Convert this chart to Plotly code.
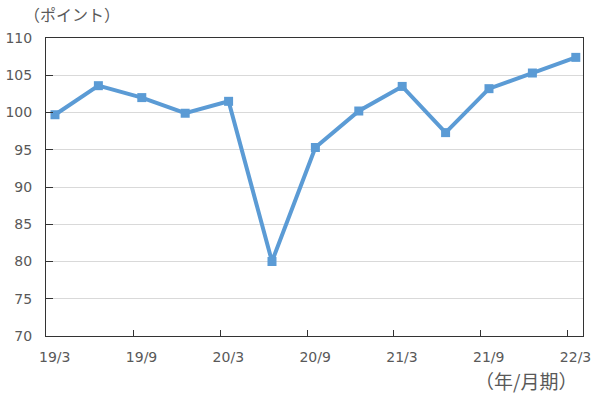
import plotly.graph_objects as go

periods = ["19/3", "19/6", "19/9", "19/12", "20/3", "20/6", "20/9", "20/12",
           "21/3", "21/6", "21/9", "21/12", "22/3"]
values = [99.7, 103.6, 102.0, 99.9, 101.5, 80.0, 95.3, 100.2, 103.5, 97.3, 103.2, 105.3, 107.4]
tick_labels = ["19/3", "19/9", "20/3", "20/9", "21/3", "21/9", "22/3"]
y_ticks = [70, 75, 80, 85, 90, 95, 100, 105, 110]

x_idx = list(range(len(periods)))
label_idx = [periods.index(t) for t in tick_labels]
tick_pos = [i - 0.19 for i in label_idx]

font_num = "DejaVu Sans, Noto Sans CJK JP, sans-serif"
font_jp = "Noto Sans CJK JP, Noto Sans, sans-serif"
gray = "#595959"
blue = "#5B9BD5"

fig = go.Figure()
fig.add_trace(go.Scatter(
    x=x_idx, y=values, mode="lines+markers",
    line=dict(color=blue, width=4),
    marker=dict(symbol="square", size=9, color=blue),
    hoverinfo="skip", showlegend=False,
))

fig.update_layout(
    width=600, height=396,
    margin=dict(l=46, r=17, t=38, b=60, autoexpand=False),
    paper_bgcolor="white", plot_bgcolor="white",
    font=dict(family=font_num, size=14, color=gray),
    xaxis=dict(
        range=[-0.207, 12.166], automargin=False,
        tickmode="array", tickvals=tick_pos, ticktext=tick_labels,
        ticklabelshift=8, ticklabelstandoff=8,
        ticks="inside", ticklen=6, tickcolor="#333333", tickwidth=1,
        showgrid=False, zeroline=False,
        showline=True, linecolor="#333333", linewidth=1, mirror=True,
        tickfont=dict(family=font_num, size=14, color=gray),
    ),
    yaxis=dict(
        range=[70, 110], automargin=False,
        tickmode="array", tickvals=y_ticks,
        ticks="inside", ticklen=7, tickcolor="#333333", tickwidth=1,
        showgrid=True, gridcolor="#d9d9d9", gridwidth=1,
        zeroline=False,
        showline=True, linecolor="#333333", linewidth=1, mirror=True,
        ticklabelstandoff=10,
        tickfont=dict(family=font_num, size=14, color=gray),
    ),
    annotations=[
        dict(text="（ポイント）", xref="paper", yref="paper", x=0, y=1.0,
             xanchor="left", yanchor="middle", xshift=-24, yshift=24, showarrow=False,
             font=dict(family=font_jp, size=16, color=gray)),
        dict(text="（年/月期）", xref="paper", yref="paper", x=1.0, y=0,
             xanchor="right", yanchor="middle", yshift=-44, xshift=-4, showarrow=False,
             font=dict(family=font_jp, size=19, color=gray)),
    ],
)

fig.write_html("out.html", config={"displayModeBar": False},
               post_script="document.body.style.margin='0';")
